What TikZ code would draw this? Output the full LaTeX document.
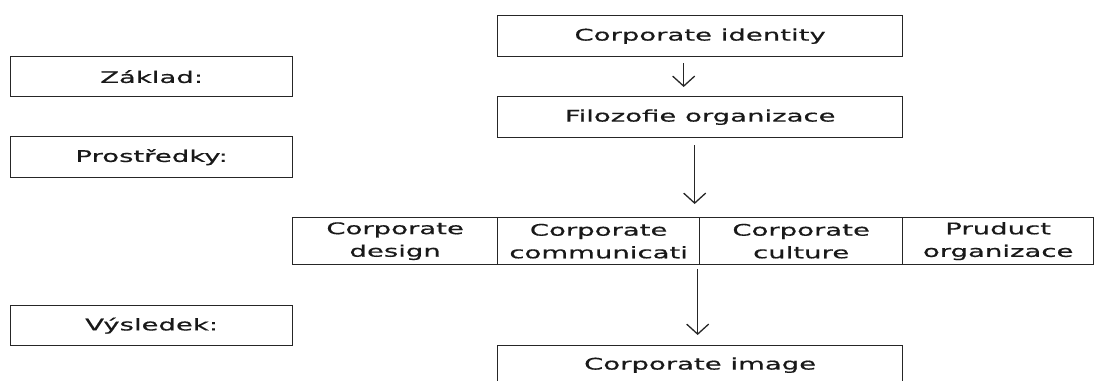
\documentclass[tikz,border=0pt]{standalone}
\usepackage{fontspec}
\setmainfont{DejaVu Sans}[FakeStretch=1.72,FakeBold=0.6]
\usetikzlibrary{arrows.meta}
\tikzset{
  box/.style={draw=black!85, line width=1.3pt, rectangle, inner sep=0pt, anchor=north west,
    align=center, font=\fontsize{16}{22.6}\selectfont, text=black!90},
  arr/.style={draw=black!85, line width=1.3pt, -{Straight Barb[length=10pt,width=22pt]}}
}
\begin{document}
\begin{tikzpicture}[x=1pt,y=-1pt]
\useasboundingbox (0,0) rectangle (1094,380);
\clip (0,0) rectangle (1094,380);
% left labels
\node[box, minimum width=282pt, minimum height=40pt] (zak) at (10,56) {Základ:};
\node[box, minimum width=282pt, minimum height=41pt] (pro) at (10,136) {Prostředky:};
\node[box, minimum width=282pt, minimum height=40pt] (vys) at (10,305) {Výsledek:};
% main column
\node[box, minimum width=405pt, minimum height=41pt] (ci) at (497,15) {Corporate identity};
\node[box, minimum width=405pt, minimum height=41pt] (fo) at (497,96) {Filozofie organizace};
\node[box, minimum width=205pt, minimum height=47pt] (c1) at (292,217) {Corporate\\design};
\node[box, minimum width=202pt, minimum height=47pt] (c2) at (497,217) {Corporate\\communicati};
\node[box, minimum width=203pt, minimum height=47pt] (c3) at (699,217) {Corporate\\culture};
\node[box, minimum width=191pt, minimum height=47pt] (c4) at (902,217) {Pruduct\\organizace};
\node[box, minimum width=405pt, minimum height=39pt] (im) at (497,345) {Corporate image};
% arrows
\draw[arr, shorten <=6pt, shorten >=9pt] ([xshift=-16.5pt]ci.south) -- ([xshift=-16.5pt]fo.north);
\draw[arr, shorten <=7pt, shorten >=13pt] ([xshift=-5.5pt]fo.south) -- ([xshift=-5.5pt]fo.south |- c2.north);
\draw[arr, shorten <=4pt, shorten >=10pt] ([xshift=-2.5pt]im.north |- c2.south) -- ([xshift=-2.5pt]im.north);
\end{tikzpicture}
\end{document}
